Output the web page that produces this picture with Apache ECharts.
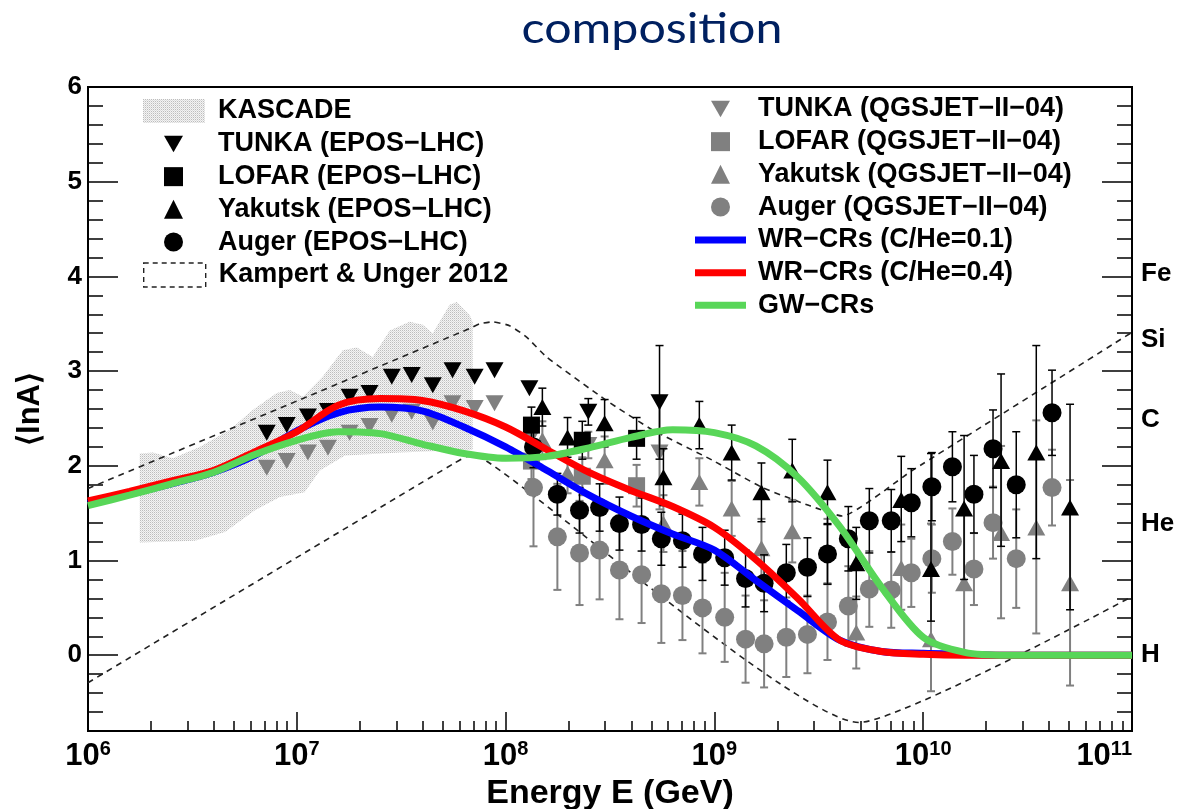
<!DOCTYPE html>
<html>
<head>
<meta charset="utf-8">
<script src="https://cdn.jsdelivr.net/npm/echarts@6/dist/echarts.min.js"></script>
<style>
  html, body { margin: 0; padding: 0; background: #ffffff; }
  #chart { width: 1201px; height: 809px; }
</style>
</head>
<body>
<div id="chart"></div>
<script>
// ---- Model curves (common energy grid, GeV) ----
const curveE = [1.00e6, 1.58e6, 2.51e6, 3.98e6, 6.31e6, 1.00e7, 1.58e7, 2.51e7, 3.98e7, 6.31e7,
                1.00e8, 1.58e8, 2.51e8, 3.98e8, 6.31e8, 1.00e9, 1.58e9, 2.51e9, 3.98e9, 6.31e9,
                1.00e10, 1.58e10, 2.51e10, 3.98e10, 6.31e10, 1.00e11];
const wrLowCHe = [1.60, 1.70, 1.81, 1.93, 2.11, 2.37, 2.56, 2.62, 2.58, 2.41,
                  2.20, 1.95, 1.69, 1.47, 1.28, 1.11, 0.79, 0.47, 0.16, 0.04,
                  0.02, 0.01, 0, 0, 0, 0];
const wrHighCHe = [1.63, 1.73, 1.84, 1.95, 2.15, 2.36, 2.64, 2.71, 2.69, 2.58,
                   2.41, 2.17, 1.93, 1.74, 1.57, 1.35, 1.01, 0.60, 0.16, 0.04,
                   0.01, 0, 0, 0, 0, 0];
const gwCRs = [1.58, 1.69, 1.81, 1.93, 2.12, 2.27, 2.36, 2.34, 2.23, 2.13,
               2.08, 2.10, 2.19, 2.30, 2.38, 2.35, 2.21, 1.88, 1.36, 0.72,
               0.19, 0.03, 0, 0, 0, 0];

// ---- KASCADE band outline [E, lnA] ----
const kascadeUpper = [[1.77e6, 2.13], [2.05e6, 2.14], [2.55e6, 2.08], [3.43e6, 2.20], [4.78e6, 2.38],
                      [6.15e6, 2.59], [8.02e6, 2.77], [9.26e6, 2.80], [1.07e7, 2.73], [1.33e7, 2.94],
                      [1.66e7, 3.22], [1.94e7, 3.25], [2.31e7, 3.15], [2.79e7, 3.43], [3.47e7, 3.52],
                      [4.01e7, 3.49], [4.48e7, 3.40], [5.40e7, 3.70], [5.83e7, 3.73], [6.73e7, 3.59],
                      [6.95e7, 3.52]];
const kascadeLower = [[1.77e6, 1.19], [3.25e6, 1.21], [4.53e6, 1.30], [6.30e6, 1.53], [8.30e6, 1.67],
                      [1.09e7, 1.72], [1.29e7, 1.95], [1.70e7, 2.11], [3.11e7, 2.14], [6.95e7, 2.17]];

// ---- Kampert & Unger 2012 band edges [E, lnA] ----
const kuUpper = [[1.0e6, 1.76], [6.73e7, 3.45], [7.52e7, 3.50], [8.67e7, 3.52], [1.045e8, 3.48],
                 [1.26e8, 3.36], [1.57e8, 3.15], [3.04e8, 2.69], [5.05e8, 2.38], [9.77e8, 2.06],
                 [1.70e9, 1.77], [2.85e9, 1.58], [4.09e9, 1.47], [8.85e9, 1.95], [1.0e11, 3.41]];
const kuLower = [[1.0e6, -0.29], [5.70e7, 2.03], [6.58e7, 2.10], [7.59e7, 2.09],
                 [4.94e9, -0.71], [1.0e11, 0.62]];

// ---- TUNKA ----
const tunkaE = [7.18e6, 8.95e6, 1.13e7, 1.41e7, 1.79e7, 2.23e7, 2.85e7, 3.55e7, 4.48e7, 5.57e7,
                7.11e7, 8.85e7, 1.30e8, 2.49e8, 5.46e8];
const tunkaEpos = [2.35, 2.43, 2.52, 2.58, 2.73, 2.77, 2.94, 2.96, 2.85, 3.01, 2.94, 3.01, 2.82, 2.57, 2.67];
const tunkaQgs  = [1.98, 2.05, 2.14, 2.19, 2.35, 2.42, 2.54, 2.57, 2.46, 2.66, 2.61, 2.66, 2.27, 2.22, 2.14];
const tunkaErr  = [0, 0, 0, 0, 0, 0, 0, 0, 0, 0, 0, 0, 0, 0.14, 0.60];

// ---- LOFAR ----
const lofarE = [1.33e8, 2.33e8, 4.24e8];
const lofarEpos = [2.43, 2.27, 2.29];
const lofarQgs  = [2.05, 1.89, 1.79];
const lofarErr  = [0.19, 0.20, 0.22];

// ---- Yakutsk ----
const yakE = [1.50e8, 1.98e8, 2.98e8, 5.70e8, 8.47e8, 1.21e9, 1.68e9, 2.36e9, 3.48e9, 4.78e9,
              7.85e9, 1.09e10, 1.57e10, 2.36e10, 3.48e10, 5.05e10];
const yakEpos = [2.62, 2.30, 2.45, 1.88, 2.43, 2.14, 1.72, 1.95, 1.72, 0.97, 1.64, 0.91, 1.55, 2.05, 2.14, 1.56];
const yakQgs  = [2.27, 1.92, 2.06, 1.39, 1.83, 1.55, 1.13, 1.31, 1.10, 0.24, 0.92, 0.17, 0.76, 1.29, 1.35, 0.76];
const yakErrLo = [0.20, 0.21, 0.25, 0.30, 0.25, 0.29, 0.31, 0.33, 0.34, 0.38, 0.44, 0.55, 0.75, 0.90, 1.12, 1.08];
const yakErrHi = [0.20, 0.21, 0.25, 0.30, 0.25, 0.29, 0.31, 0.33, 0.34, 0.38, 0.46, 1.22, 0.77, 0.92, 1.13, 1.09];

// ---- Auger ----
const augerE = [1.36e8, 1.77e8, 2.26e8, 2.82e8, 3.51e8, 4.48e8, 5.57e8, 7.03e8, 8.77e8, 1.12e9,
                1.41e9, 1.73e9, 2.21e9, 2.79e9, 3.48e9, 4.38e9, 5.52e9, 7.03e9, 8.77e9, 1.10e10,
                1.38e10, 1.75e10, 2.16e10, 2.79e10, 4.14e10];
const augerEpos = [2.20, 1.70, 1.53, 1.56, 1.39, 1.38, 1.23, 1.21, 1.07, 1.03, 0.81, 0.76, 0.87, 0.93,
                   1.07, 1.23, 1.42, 1.42, 1.61, 1.78, 1.99, 1.70, 2.18, 1.80, 2.56];
const augerQgs  = [1.77, 1.25, 1.08, 1.11, 0.90, 0.85, 0.65, 0.63, 0.50, 0.40, 0.17, 0.12, 0.19, 0.22,
                   0.35, 0.52, 0.70, 0.69, 0.87, 1.02, 1.20, 0.91, 1.40, 1.02, 1.77];
const augerErrEpos = [0.22, 0.22, 0.24, 0.25, 0.28, 0.28, 0.28, 0.28, 0.28, 0.29, 0.30, 0.30, 0.30, 0.31,
                      0.32, 0.34, 0.34, 0.33, 0.36, 0.36, 0.37, 0.41, 0.41, 0.56, 0.45];
const augerErrQgs  = [0.62, 0.56, 0.55, 0.52, 0.52, 0.51, 0.52, 0.47, 0.48, 0.47, 0.46, 0.46, 0.42, 0.41,
                      0.40, 0.42, 0.40, 0.40, 0.36, 0.36, 0.35, 0.38, 0.38, 0.52, 0.40];

// ---- Axis tick labels ----
const yTickValues = [0, 1, 2, 3, 4, 5, 6];
const elementNames = ['H', 'He', 'C', 'Si', 'Fe'];
const elementMass  = [1, 4, 12, 28, 56];

// ---------------------------------------------------------------
const FONT = '"Liberation Sans", Arial, Helvetica, sans-serif';
const BLACK = '#000000';
const GREY = '#808080';

const xMinorTicks = [];
for (let d = 6; d < 11; d++) for (let k = 2; k <= 9; k++) xMinorTicks.push(d + Math.log10(k));
const yMinorTicks = [];
for (let i = -4; i <= 30; i++) if (i % 5 !== 0) yMinorTicks.push(+(i * 0.2).toFixed(1));
const elementLn = elementMass.map(a => Math.log(a));

// fine stipple used for the KASCADE band
function stipple() {
  const c = document.createElement('canvas');
  c.width = 2; c.height = 2;
  const g = c.getContext('2d');
  g.fillStyle = '#f4f4f4'; g.fillRect(0, 0, 2, 2);
  g.fillStyle = '#bdbdbd'; g.fillRect(0, 0, 1, 1);
  g.fillStyle = '#dcdcdc'; g.fillRect(1, 1, 1, 1);
  return c;
}
const kascadeFill = { image: stipple(), repeat: 'repeat' };

const zip = (xs, ys) => xs.map((x, i) => [x, ys[i]]);

function errorBars(name, xs, ys, lo, hi, color, width, z) {
  return {
    type: 'custom', name: name, z: z, silent: true,
    data: xs.map((x, i) => [x, ys[i], lo[i], hi[i]]),
    encode: { x: 0, y: 1 },
    renderItem: function (params, api) {
      const x = api.value(0), y = api.value(1), l = api.value(2), h = api.value(3);
      if (!(l > 0 || h > 0)) return null;
      const p0 = api.coord([x, y - l]);
      const p1 = api.coord([x, y + h]);
      const cw = 4;
      const st = { stroke: color, lineWidth: width };
      return {
        type: 'group',
        children: [
          { type: 'line', shape: { x1: p0[0], y1: p0[1], x2: p1[0], y2: p1[1] }, style: st },
          { type: 'line', shape: { x1: p0[0] - cw, y1: p0[1], x2: p0[0] + cw, y2: p0[1] }, style: st },
          { type: 'line', shape: { x1: p1[0] - cw, y1: p1[1], x2: p1[0] + cw, y2: p1[1] }, style: st }
        ]
      };
    }
  };
}

function markers(name, xs, ys, symbol, size, color, z, rotate) {
  return {
    type: 'scatter', name: name, z: z, silent: true,
    data: zip(xs, ys),
    symbol: symbol, symbolSize: size, symbolRotate: rotate || 0,
    itemStyle: { color: color, opacity: 1 }
  };
}

function curve(name, ys, color) {
  return {
    type: 'line', name: name, z: 8, silent: true,
    data: zip(curveE, ys),
    symbol: 'none', smooth: 0.3,
    lineStyle: { color: color, width: 7 },
    itemStyle: { color: color }
  };
}

function dashed(data) {
  return {
    type: 'line', name: 'Kampert & Unger 2012', z: 2, silent: true,
    data: data, symbol: 'none', smooth: 0.15,
    lineStyle: { color: '#222222', width: 1.6, type: [6, 5] },
    itemStyle: { color: '#222222' }
  };
}

const DOWN_TRI = 'path://M0,0L20,0L10,17.3Z';
const legendText = (pad) => ({
  fontFamily: FONT, fontSize: 27, fontWeight: 'bold', color: BLACK,
  lineHeight: 32.7, padding: [0, 0, 0, pad]
});
const legendBase = { orient: 'vertical', selectedMode: false, padding: 0, itemGap: 0 };
const noZero = { onZero: false };

const chart = echarts.init(document.getElementById('chart'), null, { renderer: 'canvas' });

chart.setOption({
  animation: false,
  backgroundColor: '#ffffff',
  graphic: [
    {
      type: 'text', x: 652, y: 29, z: 10, scaleX: 1.15,
      style: {
        text: 'composition', fill: '#002060',
        font: '42px Lato, "Open Sans", sans-serif',
        align: 'center', verticalAlign: 'middle'
      }
    }
  ],
  grid: {
    left: 88, right: 69, top: 87, bottom: 78,
    show: true, borderColor: BLACK, borderWidth: 2, backgroundColor: 'transparent',
    containLabel: false, outerBoundsMode: 'none'
  },
  legend: [
    Object.assign({}, legendBase, {
      left: 143, top: 94.6, itemWidth: 62, itemHeight: 24,
      data: [{ name: 'KASCADE', icon: 'rect', itemStyle: { color: kascadeFill } }],
      textStyle: legendText(8)
    }),
    Object.assign({}, legendBase, {
      left: 164, top: 127.6, itemWidth: 19, itemHeight: 19,
      data: [
        { name: 'TUNKA (EPOS−LHC)', icon: DOWN_TRI },
        { name: 'LOFAR (EPOS−LHC)', icon: 'rect' },
        { name: 'Yakutsk (EPOS−LHC)', icon: 'triangle' },
        { name: 'Auger (EPOS−LHC)', icon: 'circle' }
      ],
      textStyle: legendText(30)
    }),
    Object.assign({}, legendBase, {
      left: 143, top: 258.6, itemWidth: 62, itemHeight: 24,
      data: [{
        name: 'Kampert & Unger 2012', icon: 'rect',
        itemStyle: { color: 'rgba(0,0,0,0)', borderColor: '#222222', borderWidth: 1.4, borderType: [5, 4] }
      }],
      textStyle: legendText(8)
    }),
    Object.assign({}, legendBase, {
      left: 711, top: 92.6, itemWidth: 19, itemHeight: 19,
      data: [
        { name: 'TUNKA (QGSJET−II−04)', icon: DOWN_TRI },
        { name: 'LOFAR (QGSJET−II−04)', icon: 'rect' },
        { name: 'Yakutsk (QGSJET−II−04)', icon: 'triangle' },
        { name: 'Auger (QGSJET−II−04)', icon: 'circle' }
      ],
      textStyle: legendText(23)
    }),
    Object.assign({}, legendBase, {
      left: 695, top: 223.6, itemWidth: 51, itemHeight: 7,
      data: [
        { name: 'WR−CRs (C/He=0.1)', icon: 'rect' },
        { name: 'WR−CRs (C/He=0.4)', icon: 'rect' },
        { name: 'GW−CRs', icon: 'rect' }
      ],
      textStyle: legendText(7)
    })
  ],
  xAxis: [
    {
      type: 'log', logBase: 10, min: 1e6, max: 1e11, position: 'bottom',
      axisLine: { show: true, onZero: false, lineStyle: { color: BLACK, width: 2 } },
      axisTick: { show: true, inside: true, length: 19, lineStyle: { color: BLACK, width: 1.5 } },
      minorTick: { show: false },
      splitLine: { show: false },
      axisLabel: {
        margin: 8, color: BLACK, alignMaxLabel: 'right',
        formatter: v => '{b|10}{s|' + Math.round(Math.log10(v)) + '}',
        rich: {
          b: { fontFamily: FONT, fontWeight: 'bold', fontSize: 31, lineHeight: 34, color: BLACK },
          s: { fontFamily: FONT, fontWeight: 'bold', fontSize: 20, lineHeight: 20, color: BLACK, verticalAlign: 'top' }
        }
      },
      name: 'Energy E (GeV)', nameLocation: 'middle', nameGap: 43,
      nameTextStyle: { fontFamily: FONT, fontWeight: 'bold', fontSize: 34, color: BLACK }
    },
    {
      type: 'value', min: 6, max: 11, position: 'bottom',
      axisLine: { show: false, onZero: false }, axisLabel: { show: false }, splitLine: { show: false },
      axisTick: { show: true, inside: true, length: 10, customValues: xMinorTicks,
                  lineStyle: { color: BLACK, width: 1.5 } }
    }
  ],
  yAxis: [
    {
      type: 'value', min: -0.8, max: 6, position: 'left',
      axisLine: { show: true, onZero: false, lineStyle: { color: BLACK, width: 2 } },
      axisTick: { show: true, inside: true, length: 30, customValues: yTickValues,
                  lineStyle: { color: BLACK, width: 1.5 } },
      axisLabel: { customValues: yTickValues, margin: 6, color: BLACK,
                   fontFamily: FONT, fontWeight: 'bold', fontSize: 26 },
      splitLine: { show: false },
      name: '⟨lnA⟩', nameLocation: 'middle', nameGap: 42, nameRotate: 90,
      nameTextStyle: { fontFamily: FONT, fontWeight: 'bold', fontSize: 31, color: BLACK }
    },
    {
      type: 'value', min: -0.8, max: 6, position: 'left',
      axisLine: { show: false, onZero: false }, axisLabel: { show: false }, splitLine: { show: false },
      axisTick: { show: true, inside: true, length: 15, customValues: yMinorTicks,
                  lineStyle: { color: BLACK, width: 1.5 } }
    },
    {
      type: 'value', min: -0.8, max: 6, position: 'right',
      axisLine: { show: true, onZero: false, lineStyle: { color: BLACK, width: 2 } },
      axisTick: { show: true, inside: true, length: 30, customValues: yTickValues,
                  lineStyle: { color: BLACK, width: 1.5 } },
      axisLabel: {
        customValues: elementLn, margin: 9, color: BLACK,
        fontFamily: FONT, fontWeight: 'bold', fontSize: 26,
        formatter: v => {
          let best = 0;
          elementLn.forEach((l, i) => { if (Math.abs(l - v) < Math.abs(elementLn[best] - v)) best = i; });
          return elementNames[best];
        }
      },
      splitLine: { show: false }
    },
    {
      type: 'value', min: -0.8, max: 6, position: 'right',
      axisLine: { show: false, onZero: false }, axisLabel: { show: false }, splitLine: { show: false },
      axisTick: { show: true, inside: true, length: 15, customValues: yMinorTicks,
                  lineStyle: { color: BLACK, width: 1.5 } }
    }
  ],
  series: [
    {
      type: 'custom', name: 'KASCADE', z: 1, silent: true,
      data: [kascadeUpper[0]],
      encode: { x: 0, y: 1 },
      itemStyle: { color: '#dddddd' },
      renderItem: function (params, api) {
        const ring = kascadeUpper.concat(kascadeLower.slice().reverse());
        return {
          type: 'polygon',
          shape: { points: ring.map(p => api.coord(p)) },
          style: { fill: kascadeFill }
        };
      }
    },
    dashed(kuUpper),
    dashed(kuLower),

    markers('TUNKA (QGSJET−II−04)', tunkaE, tunkaQgs, 'triangle', [18, 16], GREY, 4, 180),
    markers('LOFAR (QGSJET−II−04)', lofarE, lofarQgs, 'rect', 17, GREY, 4),
    markers('Yakutsk (QGSJET−II−04)', yakE, yakQgs, 'triangle', [18, 16], GREY, 4),
    markers('Auger (QGSJET−II−04)', augerE, augerQgs, 'circle', 19, GREY, 4),
    errorBars('TUNKA QGS err', tunkaE, tunkaQgs, tunkaErr, tunkaErr, GREY, 2, 3),
    errorBars('LOFAR QGS err', lofarE, lofarQgs, lofarErr, lofarErr, GREY, 2, 3),
    errorBars('Yakutsk QGS err', yakE, yakQgs, yakErrLo, yakErrHi, GREY, 2, 3),
    errorBars('Auger QGS err', augerE, augerQgs, augerErrQgs, augerErrQgs, GREY, 2, 3),

    markers('TUNKA (EPOS−LHC)', tunkaE, tunkaEpos, 'triangle', [18, 16], BLACK, 6, 180),
    markers('LOFAR (EPOS−LHC)', lofarE, lofarEpos, 'rect', 17, BLACK, 6),
    markers('Yakutsk (EPOS−LHC)', yakE, yakEpos, 'triangle', [18, 16], BLACK, 6),
    markers('Auger (EPOS−LHC)', augerE, augerEpos, 'circle', 19, BLACK, 6),
    errorBars('TUNKA EPOS err', tunkaE, tunkaEpos, tunkaErr, tunkaErr, BLACK, 1.5, 5),
    errorBars('LOFAR EPOS err', lofarE, lofarEpos, lofarErr, lofarErr, BLACK, 1.5, 5),
    errorBars('Yakutsk EPOS err', yakE, yakEpos, yakErrLo, yakErrHi, BLACK, 1.5, 5),
    errorBars('Auger EPOS err', augerE, augerEpos, augerErrEpos, augerErrEpos, BLACK, 1.5, 5),

    curve('WR−CRs (C/He=0.1)', wrLowCHe, '#0000ff'),
    curve('WR−CRs (C/He=0.4)', wrHighCHe, '#ff0000'),
    curve('GW−CRs', gwCRs, '#58d658')
  ]
});
</script>
</body>
</html>
